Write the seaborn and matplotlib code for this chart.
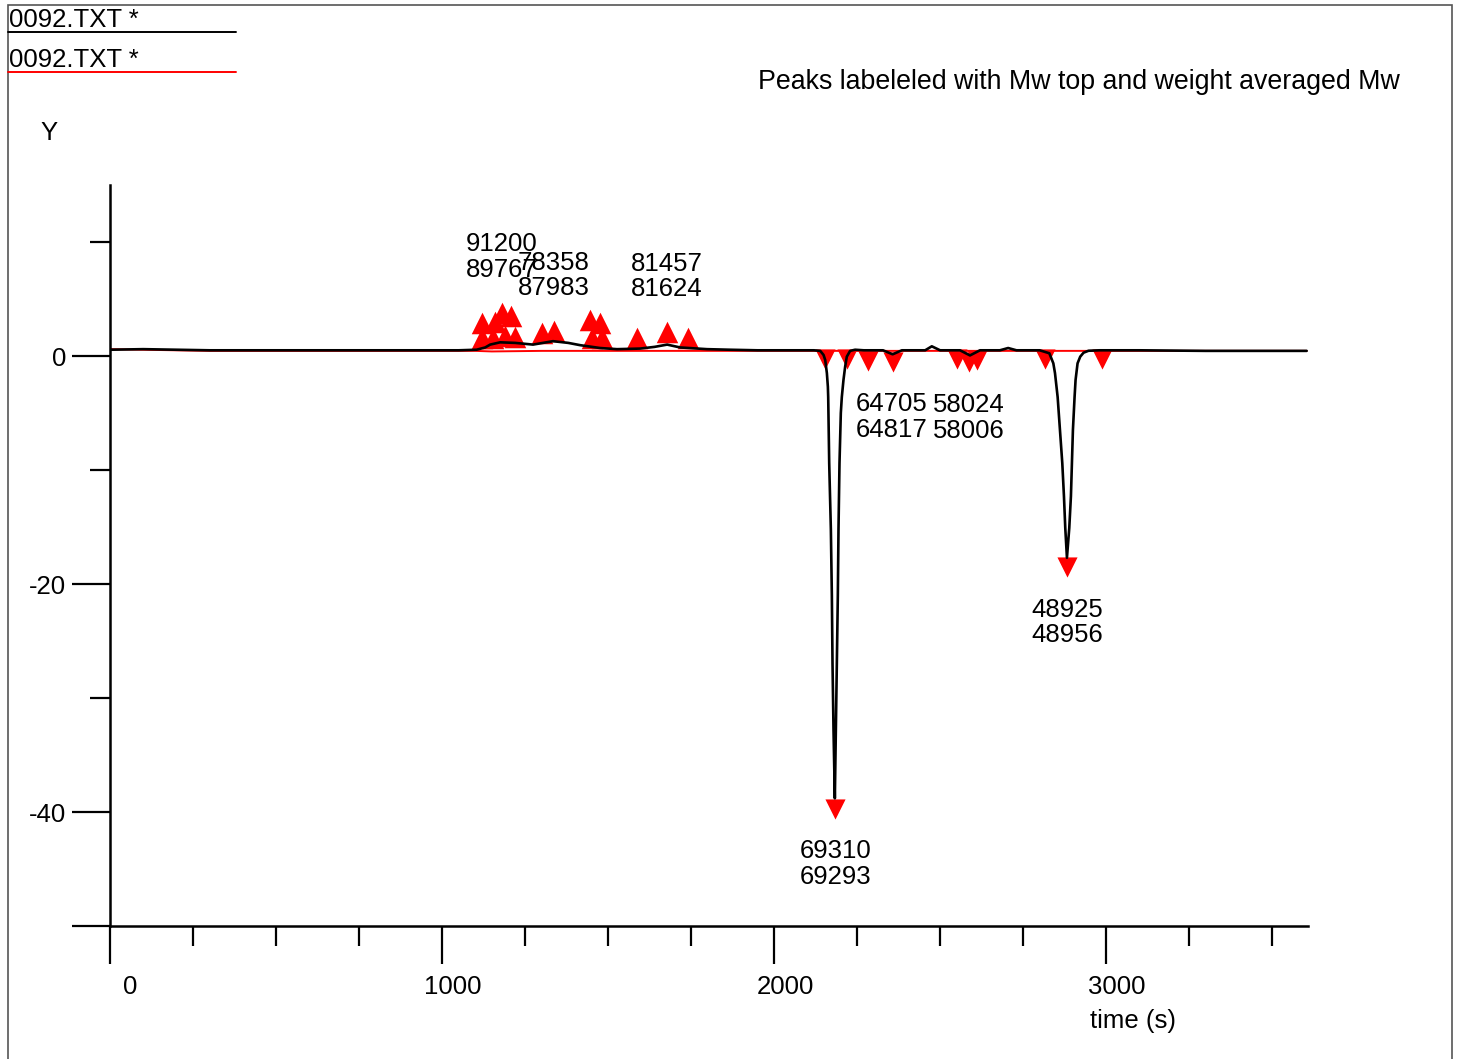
import matplotlib
matplotlib.use("Agg")
import matplotlib.pyplot as plt
import seaborn as sns
from matplotlib.transforms import ScaledTranslation
from matplotlib.lines import Line2D
from matplotlib.patches import Rectangle

# ---- data ----
trace_t = [0, 100, 200, 300, 600, 900, 1050, 1104, 1130, 1145, 1175, 1220, 1274, 1334,
           1380, 1416, 1476, 1527, 1596, 1640, 1678, 1717, 1798, 1867, 1950, 2050, 2120,
           2139, 2149, 2154, 2159, 2162, 2163, 2166, 2171, 2174, 2176, 2179, 2183,
           2189, 2192, 2194, 2197, 2201, 2204, 2209, 2214, 2219, 2229, 2244, 2270,
           2328, 2357, 2385, 2455, 2475, 2500, 2560, 2590, 2620, 2680, 2705, 2730, 2800,
           2829, 2841, 2846, 2854, 2861, 2868, 2873, 2877, 2882,
           2889, 2894, 2897, 2900, 2905, 2908, 2914, 2922, 2932, 2947, 2980, 3100, 3300, 3604]
trace_y = [0.55, 0.6, 0.55, 0.5, 0.5, 0.5, 0.5, 0.55, 0.75, 1.0, 1.2, 1.15, 1.0, 1.3,
           1.15, 0.95, 0.7, 0.6, 0.65, 0.8, 1.0, 0.75, 0.6, 0.55, 0.5, 0.5, 0.5,
           0.45, 0.09, -0.35, -1.5, -2.7, -3.6, -9.4, -15.2, -21.0, -27.0, -32.8, -38.8,
           -27.0, -21.0, -15.2, -9.4, -5.0, -3.6, -2.1, -0.94, -0.06, 0.45, 0.55, 0.5,
           0.5, 0.15, 0.5, 0.5, 0.85, 0.5, 0.5, 0.05, 0.5, 0.5, 0.7, 0.5, 0.5,
           0.24, -0.64, -1.5, -3.6, -6.5, -9.4, -12.3, -15.1, -17.7,
           -15.1, -12.3, -9.4, -6.5, -3.6, -2.1, -0.64, -0.06, 0.29, 0.46, 0.5, 0.5, 0.45, 0.45]

ref_t = [0, 300, 1100, 1150, 1300, 1500, 1870, 2100, 2500, 3000, 3604]
ref_y = [0.6, 0.45, 0.45, 0.4, 0.45, 0.45, 0.45, 0.45, 0.45, 0.45, 0.45]

up_t = [1120, 1160, 1180, 1207, 1120, 1154, 1190, 1220, 1300, 1337,
        1446, 1476, 1452, 1482, 1586, 1677, 1741]
up_y = [2.9, 3.0, 3.8, 3.5, 1.6, 1.6, 1.75, 1.65, 2.0, 2.2,
        3.2, 2.9, 1.6, 1.6, 1.6, 2.1, 1.6]

down_t = [2154, 2220, 2283, 2358, 2551, 2587, 2611, 2816, 2988, 2184, 2883]
down_y = [-0.3, -0.3, -0.4, -0.5, -0.3, -0.55, -0.35, -0.3, -0.3, -39.7, -18.5]

peak_t = [1180, 1337, 1677, 2355, 2587, 2184, 2883]
peak_y = [3.8, 2.2, 2.1, -0.5, -0.55, -39.7, -18.5]
peak_top = ["91200", "78358", "81457", "64705", "58024", "69310", "48925"]
peak_avg = ["89767", "87983", "81624", "64817", "58006", "69293", "48956"]
peak_up = [True, True, True, False, False, False, False]

x_major = [0, 1000, 2000, 3000]
x_minor = [250, 500, 750, 1250, 1500, 1750, 2250, 2500, 2750, 3250, 3500]
y_major = [-50, -40, -20, 0]
y_major_labels = ["", "-40", "-20", "0"]
y_minor = [-30, -10, 10]

legend_names = ["0092.TXT *", "0092.TXT *"]

# ---- style ----
sns.set_style("white")
plt.rcParams['font.family'] = ['Liberation Sans', 'DejaVu Sans']
plt.rcParams['axes.unicode_minus'] = False
plt.rcParams['text.color'] = 'black'
plt.rcParams['xtick.color'] = 'black'
plt.rcParams['ytick.color'] = 'black'
FS = 18.5

W, H = 1460, 1059
fig = plt.figure(figsize=(W / 100, H / 100), dpi=100)
ax = fig.add_axes([110 / W, 133 / H, 1198 / W, 741 / H])

sns.lineplot(x=ref_t, y=ref_y, ax=ax, color='red', linewidth=1.4,
             estimator=None, sort=False, zorder=2)
sns.scatterplot(x=up_t, y=up_y, ax=ax, marker='^', s=15.5 ** 2, color='red',
                linewidth=0, zorder=3)
sns.scatterplot(x=down_t, y=down_y, ax=ax, marker='v', s=14.5 ** 2, color='red',
                linewidth=0, zorder=3)
sns.lineplot(x=trace_t, y=trace_y, ax=ax, color='black', linewidth=1.9,
             estimator=None, sort=False, zorder=4)

for t, y, a, b, up in zip(peak_t, peak_y, peak_top, peak_avg, peak_up):
    off = 40 if up else -40
    ax.annotate(a + "\n" + b, xy=(t, y), xytext=(0, off), textcoords='offset points',
                ha='center', va='center', fontsize=FS, linespacing=1.08, zorder=5,
                color='black')

ax.set_xlim(0, 3608)
ax.set_ylim(-50, 15)

for s in ['top', 'right']:
    ax.spines[s].set_visible(False)
for s in ['left', 'bottom']:
    ax.spines[s].set_linewidth(1.8)
    ax.spines[s].set_color('black')

ax.set_xticks(x_major)
ax.set_xticks(x_minor, minor=True)
ax.set_xticklabels([str(v) for v in x_major])
ax.set_yticks(y_major)
ax.set_yticks(y_minor, minor=True)
ax.set_yticklabels(y_major_labels)
ax.tick_params(which='both', bottom=True, left=True, direction='out', width=1.6,
               color='black', labelsize=FS, labelcolor='black')
ax.tick_params(which='major', length=27.4)
ax.tick_params(which='minor', length=14.4)
ax.tick_params(axis='x', which='major', pad=8)
ax.tick_params(axis='y', which='major', pad=4)
for lab in ax.get_xticklabels():
    dx = 20 if lab.get_text() == "0" else 11
    lab.set_transform(lab.get_transform() + ScaledTranslation(dx / 100, 0, fig.dpi_scale_trans))
ax.set_xlabel("")
ax.set_ylabel("")
ax.grid(False)

# ---- figure texts ----
fig.text(49 / W, 1 - 133 / H, "Y", ha='center', va='center', fontsize=FS)
fig.text(1090 / W, 1 - 1021 / H, "time (s)", ha='left', va='center', fontsize=FS)
fig.text(1400 / W, 1 - 82 / H, "Peaks labeleled with Mw top and weight averaged Mw",
         ha='right', va='center', fontsize=19.3)

# legend-like entries at top left
for i, (name, col) in enumerate(zip(legend_names, ['black', 'red'])):
    ty = 20 + 40 * i
    ly = 32 + 40 * i
    fig.text(9 / W, 1 - ty / H, name, ha='left', va='center', fontsize=FS)
    fig.add_artist(Line2D([8 / W, 236 / W], [1 - ly / H, 1 - ly / H],
                          color=col, linewidth=1.4, transform=fig.transFigure))

# figure frame (bottom edge lies below the picture)
fig.add_artist(Rectangle((8 / W, -10 / H), (1452 - 8) / W, (1054 + 10) / H,
                         fill=False, edgecolor='#555555', linewidth=1.2,
                         transform=fig.transFigure, clip_on=False))

fig.savefig("out.png", dpi=100)
